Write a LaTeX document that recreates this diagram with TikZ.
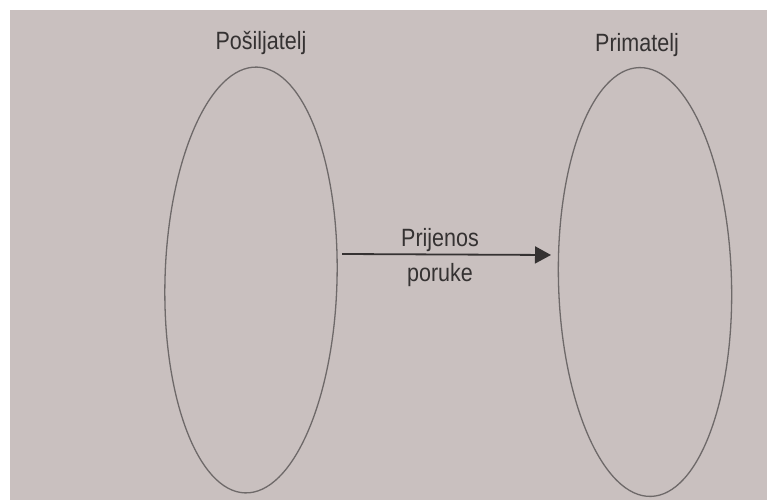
\documentclass[tikz,border=0pt]{standalone}
\usepackage{fontspec}
\usetikzlibrary{shapes.geometric,arrows.meta}
\newfontfamily\condfont[FakeStretch=0.86]{Liberation Sans}
\definecolor{paper}{HTML}{C9C0BF}
\definecolor{ovalline}{HTML}{6E6969}
\definecolor{inkc}{HTML}{353232}
\begin{document}
\begin{tikzpicture}[x=1pt,y=1pt,
  oval/.style={draw=ovalline,line width=1.3pt,ellipse,inner sep=0pt},
  lbl/.style={text=inkc,font=\condfont\fontsize{25}{28}\selectfont,anchor=base,inner sep=0pt},
  msgarrow/.style={draw=inkc,line width=1.8pt,-{Triangle[length=16pt,width=17pt]}}]
\useasboundingbox (0,0) rectangle (767,503);
\fill[paper] (10,3) rectangle (767,493);
\node[oval,minimum width=172pt,minimum height=426pt,rotate=-1.6] (sender) at (251,223) {};
\node[oval,minimum width=173pt,minimum height=429pt,rotate=1.6] (receiver) at (645,221) {};
\node[lbl] (senderlbl) at (261,453) {Pošiljatelj};
\node[lbl] (receiverlbl) at (637,451) {Primatelj};
\coordinate (arrstart) at (342,249);
\coordinate (arrend) at (551,248);
\draw[msgarrow] (arrstart) -- (arrend);
\node[lbl] (msgtop) at (440,256) {Prijenos};
\node[lbl] (msgbot) at (440,221) {poruke};
\end{tikzpicture}
\end{document}
